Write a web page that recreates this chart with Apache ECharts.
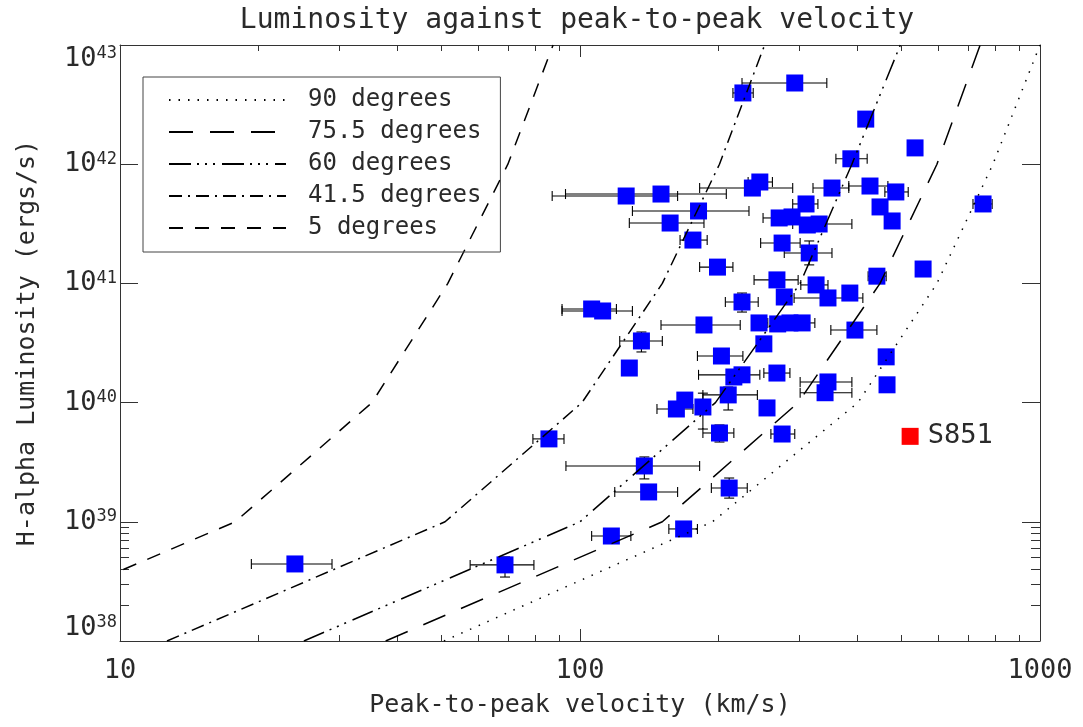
<!DOCTYPE html>
<html>
<head>
<meta charset="utf-8">
<script src="https://cdn.jsdelivr.net/npm/echarts@6/dist/echarts.min.js"></script>
<style>html,body{margin:0;padding:0;background:#fff}#c{width:1083px;height:727px}</style>
</head>
<body>
<div id="c"></div>
<script>
// ---- data ----
const velocity = [226, 293, 418, 388, 535, 353, 427, 486, 310, 449, 477, 752, 126, 150, 246, 237, 181, 157, 176, 271,
  289, 312, 331, 275, 315, 199, 442, 557, 268, 278, 326, 346, 386, 106, 112, 225, 186, 245, 269, 286,
  304, 396, 136, 251, 128, 203, 268, 216, 225, 463, 465, 346, 341, 169, 162, 185, 210, 255, 201, 275,
  85.6, 138, 141, 211, 117, 168, 24.0, 68.7];
const luminosity = [3.96e42, 4.80e42, 2.39e42, 1.11e42, 1.37e42, 6.31e41, 6.56e41, 5.85e41, 4.64e41, 4.38e41, 3.34e41, 4.64e41, 5.41e41, 5.62e41, 7.09e41, 6.31e41, 4.05e41, 3.21e41, 2.31e41, 3.54e41,
  3.61e41, 3.09e41, 3.15e41, 2.18e41, 1.80e41, 1.37e41, 1.15e41, 1.32e41, 1.07e41, 7.69e40, 9.71e40, 7.55e40, 8.30e40, 6.10e40, 5.87e40, 6.98e40, 4.48e40, 4.66e40, 4.57e40, 4.66e40,
  4.66e40, 4.06e40, 3.29e40, 3.11e40, 1.95e40, 2.46e40, 1.77e40, 1.64e40, 1.71e40, 2.42e40, 1.41e40, 1.49e40, 1.21e40, 1.05e40, 8.84e39, 9.19e39, 1.16e40, 9.02e39, 5.56e39, 5.45e39,
  4.96e39, 2.94e39, 1.78e39, 1.92e39, 7.60e38, 8.71e38, 4.43e38, 4.35e38];
const velErrLow = [215, 225, null, 360, null, 321, 384, 460, 290, null, 460, 715, 87, 93, 232, 182, 130, 128, 165, 250,
  null, null, 290, 247, 278, 182, 423, null, 239, null, 302, 292, null, 91.4, 91.4, 207, 150, 236, null, null,
  284, 351, 122, null, null, 180, 251, null, 181, null, null, 301, 301, null, 147, null, 185, null, 185, 260,
  79.0, 93.2, 119, 193, 106, 156, 19.3, 57.7];
const velErrHigh = [238, 344, null, 421, null, 384, 467, 517, 329, null, 494, 787, 163, 208, 262, 290, 233, 186, 189, 292,
  null, null, 390, 301, 353, 215, 463, null, 298, null, 346, 412, null, 120, 130, 244, 223, 256, null, null,
  324, 442, 151, null, null, 226, 286, null, 246, null, null, 390, 390, null, 176, null, 243, null, 216, 293,
  92.3, 182, 163, 231, 129, 180, 28.9, 79.4];
const lumErrLow = [null, null, null, null, null, null, null, null, null, null, null, null, null, null, null, null, null, null, null, null,
  null, null, null, null, 1.43e41, null, null, null, null, null, null, null, null, null, null, 5.75e40, null, null, null, null,
  null, null, 2.66e40, null, null, null, null, null, null, null, null, null, null, null, null, 6.0e39, 8.67e39, null, 4.67e39, null,
  null, 2.29e39, null, 1.58e39, null, null, null, 3.44e38];
const lumErrHigh = [null, null, null, null, null, null, null, null, null, null, null, null, null, null, null, null, null, null, null, null,
  null, null, null, null, 2.27e41, null, null, null, null, null, null, null, null, null, null, 8.30e40, null, null, null, null,
  null, null, 3.91e40, null, null, null, null, null, null, null, null, null, null, null, null, 1.2e40, 1.35e40, null, 6.49e39, null,
  null, 3.50e39, null, 2.33e39, null, null, null, 5.07e38];
const s851Velocity = [522];
const s851Luminosity = [5.21e39];
const s851Label = 'S851';

const modelNames = ['90 degrees', '75.5 degrees', '60 degrees', '41.5 degrees', '5 degrees'];
const modelLuminosity = [1e38, 1e39, 1e40, 1e41, 1e42, 1e43];
const model90 = [50.6, 194, 402, 597, 790, 1000];
const model75 = [37.8, 151, 298, 449, 597, 741];
const model60 = [25.1, 100, 197, 301, 390, 497];
const model41 = [12.65, 50.9, 101, 151, 201, 252];
const model5 = [4.4, 17.8, 35.3, 51.6, 69.7, 87.4];
const modelVelocities = [model90, model75, model60, model41, model5];

const xMinorTicks = [20, 30, 40, 50, 60, 70, 80, 90, 200, 300, 400, 500, 600, 700, 800, 900];
const yMinorTicks = [2e38, 3e38, 4e38, 5e38, 6e38, 7e38, 8e38, 9e38];

// ---- styles ----
const FONT = 'DejaVu Sans Mono';
const TXT = '#2a2a2a';
const AX = '#333';
const dashes = [[1.5, 8], [24, 17], [22, 6, 2, 6, 2, 6, 2, 7], [13, 6, 2, 6], [14, 12]];

const chart = echarts.init(document.getElementById('c'), null, {renderer: 'canvas'});

function majorX(pos, labels) {
  return {
    type: 'log', logBase: 10, min: 10, max: 1000, position: pos, gridIndex: 0,
    axisLine: {show: true, lineStyle: {color: AX, width: 1}},
    axisTick: {show: true, inside: true, length: 12, lineStyle: {color: AX, width: 1}},
    splitLine: {show: false},
    axisLabel: labels ? {show: true, margin: 16, fontFamily: FONT, fontSize: 27, color: TXT,
      formatter: v => String(Math.round(v))} : {show: false},
    name: labels ? 'Peak-to-peak velocity (km/s)' : '',
    nameLocation: 'middle', nameGap: 52,
    nameTextStyle: {fontFamily: FONT, fontSize: 25, color: TXT}
  };
}
function minorX(pos) {
  return {
    type: 'value', min: 1, max: 3, position: pos, gridIndex: 0,
    axisLine: {show: false}, splitLine: {show: false}, axisLabel: {show: false},
    axisTick: {show: true, inside: true, length: 6, lineStyle: {color: AX, width: 1},
      customValues: xMinorTicks.map(Math.log10)}
  };
}
function majorY(pos, labels) {
  return {
    type: 'log', logBase: 10, min: 1e38, max: 1e43, position: pos, gridIndex: 0,
    axisLine: {show: true, lineStyle: {color: AX, width: 1}},
    axisTick: {show: true, inside: true, length: 18, lineStyle: {color: AX, width: 1}},
    splitLine: {show: false},
    axisLabel: labels ? {
      show: true, margin: 3, color: TXT,
      verticalAlignMinLabel: 'bottom', verticalAlignMaxLabel: 'top',
      formatter: v => '{b|10}{s|' + Math.round(Math.log10(v)) + '}',
      rich: {
        b: {fontFamily: FONT, fontSize: 27, color: TXT, lineHeight: 27},
        s: {fontFamily: FONT, fontSize: 17, color: TXT, lineHeight: 17, verticalAlign: 'top'}
      }
    } : {show: false},
    name: labels ? 'H-alpha Luminosity (ergs/s)' : '',
    nameLocation: 'middle', nameGap: 80,
    nameTextStyle: {fontFamily: FONT, fontSize: 25, color: TXT}
  };
}
function minorY(pos) {
  return {
    type: 'value', min: 38, max: 43, position: pos, gridIndex: 0,
    axisLine: {show: false}, splitLine: {show: false}, axisLabel: {show: false},
    axisTick: {show: true, inside: true, length: 9, lineStyle: {color: AX, width: 1},
      customValues: yMinorTicks.map(Math.log10)}
  };
}

const points = velocity.map((v, i) => [v, luminosity[i]]);

const errorSeries = {
  type: 'custom', name: 'errors', z: 1, silent: true,
  xAxisIndex: 0, yAxisIndex: 0,
  data: points,
  encode: {x: 0, y: 1},
  renderItem: function (params, api) {
    const i = params.dataIndex;
    const v = api.value(0), L = api.value(1);
    const st = {stroke: '#000', lineWidth: 1.1};
    const ch = [];
    const lo = velErrLow[i], hi = velErrHigh[i];
    if (lo != null && hi != null) {
      const a = api.coord([lo, L]), b = api.coord([hi, L]);
      ch.push({type: 'line', shape: {x1: a[0], y1: a[1], x2: b[0], y2: b[1]}, style: st});
      ch.push({type: 'line', shape: {x1: a[0], y1: a[1] - 5, x2: a[0], y2: a[1] + 5}, style: st});
      ch.push({type: 'line', shape: {x1: b[0], y1: b[1] - 5, x2: b[0], y2: b[1] + 5}, style: st});
    }
    const llo = lumErrLow[i], lhi = lumErrHigh[i];
    if (llo != null && lhi != null) {
      const a = api.coord([v, llo]), b = api.coord([v, lhi]);
      ch.push({type: 'line', shape: {x1: a[0], y1: a[1], x2: b[0], y2: b[1]}, style: st});
      ch.push({type: 'line', shape: {x1: a[0] - 5, y1: a[1], x2: a[0] + 5, y2: a[1]}, style: st});
      ch.push({type: 'line', shape: {x1: b[0] - 5, y1: b[1], x2: b[0] + 5, y2: b[1]}, style: st});
    }
    return {type: 'group', children: ch};
  }
};

const modelSeries = modelNames.map((name, k) => ({
  type: 'line', name: name, z: 3, silent: true,
  xAxisIndex: 0, yAxisIndex: 0,
  symbol: 'none', showSymbol: false, clip: true,
  lineStyle: {color: '#000', width: 1.5, type: dashes[k]},
  itemStyle: {color: '#000'},
  data: modelVelocities[k].map((v, i) => [v, modelLuminosity[i]])
}));

const option = {
  animation: false,
  backgroundColor: '#fff',
  title: {
    text: 'Luminosity against peak-to-peak velocity',
    left: 572, top: 2, textAlign: 'center',
    textStyle: {fontFamily: FONT, fontSize: 28, fontWeight: 'normal', color: TXT}
  },
  grid: {left: 120, right: 43, top: 45, bottom: 86, containLabel: false, outerBoundsMode: 'none'},
  xAxis: [majorX('bottom', true), majorX('top', false), minorX('bottom'), minorX('top')],
  yAxis: [majorY('left', true), majorY('right', false), minorY('left'), minorY('right')],
  legend: {
    data: modelNames, orient: 'vertical', left: 143, top: 77,
    itemWidth: 117, itemHeight: 14, itemGap: 8,
    padding: [11, 19, 12, 25],
    borderColor: '#444', borderWidth: 1,
    selectedMode: false,
    itemStyle: {opacity: 0},
    textStyle: {fontFamily: FONT, fontSize: 24, color: TXT, lineHeight: 24, padding: [0, 0, 0, 17]}
  },
  series: [
    errorSeries,
    {
      type: 'scatter', name: 'data', z: 2, silent: true,
      symbol: 'rect', symbolSize: 17,
      itemStyle: {color: '#0000ff', opacity: 1},
      data: points
    },
    {
      type: 'scatter', name: s851Label, z: 2, silent: true,
      symbol: 'rect', symbolSize: 17,
      itemStyle: {color: '#ff0000', opacity: 1},
      label: {show: true, position: 'right', distance: 9, formatter: s851Label,
        fontFamily: FONT, fontSize: 27, color: TXT},
      data: s851Velocity.map((v, i) => [v, s851Luminosity[i]])
    }
  ].concat(modelSeries)
};
chart.setOption(option);
</script>
</body>
</html>
